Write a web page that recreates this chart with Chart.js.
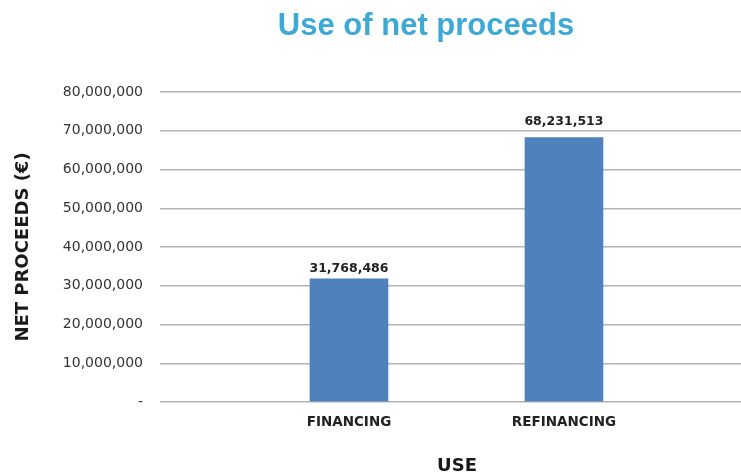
<!DOCTYPE html>
<html>
<head>
<meta charset="utf-8">
<title>Use of net proceeds</title>
<script src="https://cdn.jsdelivr.net/npm/chart.js@4/dist/chart.umd.min.js"></script>
<style>
  html, body { margin: 0; padding: 0; background: #ffffff; overflow: hidden; }
  #frame { width: 741px; height: 474px; overflow: hidden; position: relative; }
  #chart { display: block; }
</style>
</head>
<body>
<div id="frame"><canvas id="chart" width="754" height="474"></canvas></div>
<script>
// Chart content
const chartTitle = 'Use of net proceeds';
const categories = ['FINANCING', 'REFINANCING'];
const proceeds = [31768486, 68231513];
const yTicks = [0, 10000000, 20000000, 30000000, 40000000, 50000000, 60000000, 70000000, 80000000];
const yAxisTitle = 'NET PROCEEDS (€)';
const xAxisTitle = 'USE';

const fmt = new Intl.NumberFormat('en-US');

// Headline drawn in the space above the plot
const headlinePlugin = {
  id: 'headline',
  afterDraw(chart, args, opts) {
    const ctx = chart.ctx;
    ctx.save();
    ctx.font = opts.font;
    ctx.fillStyle = opts.color;
    ctx.textAlign = 'center';
    ctx.textBaseline = 'alphabetic';
    ctx.fillText(opts.text, opts.x, opts.y);
    ctx.restore();
  }
};

// Value labels above each bar
const valueLabelPlugin = {
  id: 'valueLabels',
  afterDatasetsDraw(chart, args, opts) {
    const ctx = chart.ctx;
    ctx.save();
    ctx.font = opts.font;
    ctx.fillStyle = opts.color;
    ctx.textAlign = 'center';
    ctx.textBaseline = 'alphabetic';
    chart.data.datasets.forEach((ds, di) => {
      chart.getDatasetMeta(di).data.forEach((bar, i) => {
        const gap = opts.gaps[i] ?? opts.gaps[0];
        ctx.fillText(fmt.format(ds.data[i].y), bar.x, bar.y - gap);
      });
    });
    ctx.restore();
  }
};

new Chart(document.getElementById('chart'), {
  type: 'bar',
  data: {
    datasets: [{
      label: 'Net proceeds',
      data: categories.map((c, i) => ({ x: i, y: proceeds[i] })),
      backgroundColor: '#4f81bd',
      borderWidth: 0,
      barThickness: 78
    }]
  },
  options: {
    responsive: false,
    devicePixelRatio: 1,
    animation: false,
    layout: { padding: { top: 92, left: 0, right: 0, bottom: 0 } },
    plugins: {
      legend: { display: false },
      tooltip: { enabled: false },
      title: { display: false },
      headline: {
        text: chartTitle,
        font: 'bold 31px "Liberation Sans", Arial, sans-serif',
        color: '#3fa9d5',
        x: 426,
        y: 35
      },
      valueLabels: {
        font: 'bold 12.5px "DejaVu Sans", sans-serif',
        color: '#222222',
        gaps: [7, 12.5]
      }
    },
    scales: {
      x: {
        type: 'linear',
        offset: false,
        bounds: 'data',
        min: -0.879,
        max: 1.884,
        grid: { display: false, drawTicks: false, offset: false },
        border: { display: false },
        afterDataLimits(scale) {
          scale.min = -0.879;
          scale.max = 1.884;
        },
        afterBuildTicks(scale) {
          scale.ticks = categories.map((c, i) => ({ value: i }));
        },
        afterFit(scale) { scale.height = 72; },
        ticks: {
          padding: 12,
          color: '#222222',
          font: { family: '"DejaVu Sans", sans-serif', size: 13.5, weight: 'bold' },
          callback: (v) => categories[v]
        },
        title: {
          display: true,
          text: xAxisTitle,
          color: '#1a1a1a',
          font: { family: '"DejaVu Sans", sans-serif', size: 18, weight: 'bold' },
          padding: { top: 0, bottom: -3 }
        }
      },
      y: {
        min: 0,
        max: 80000000,
        afterBuildTicks(scale) {
          scale.ticks = yTicks.map(v => ({ value: v }));
        },
        afterFit(scale) { scale.width = 160; },
        grid: { color: '#b4b4b4', lineWidth: 1.5, drawTicks: false },
        border: { display: false },
        ticks: {
          padding: 17,
          color: '#333333',
          font: { family: '"DejaVu Sans", sans-serif', size: 14 },
          callback: (v) => v === 0 ? '-' : fmt.format(v)
        },
        title: {
          display: true,
          text: yAxisTitle,
          color: '#1a1a1a',
          font: { family: '"DejaVu Sans", sans-serif', size: 18, weight: 'bold' },
          padding: { top: 13, bottom: 0 }
        }
      }
    }
  },
  plugins: [headlinePlugin, valueLabelPlugin]
});
</script>
</body>
</html>
